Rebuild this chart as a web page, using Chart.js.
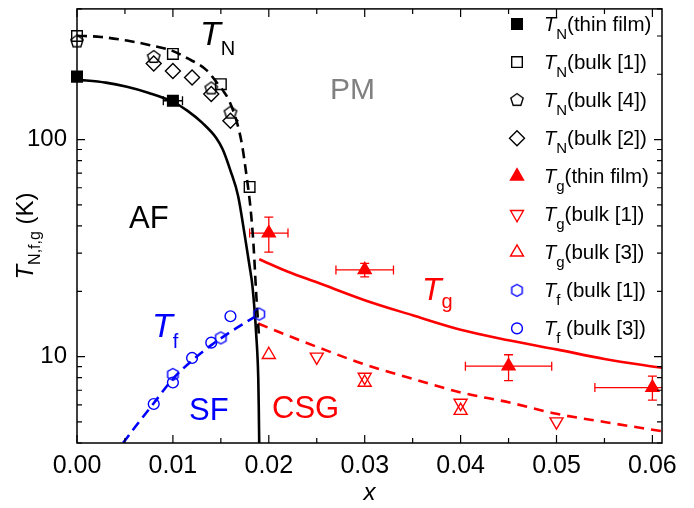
<!DOCTYPE html>
<html>
<head>
<meta charset="utf-8">
<script src="https://cdn.jsdelivr.net/npm/chart.js@4.4.0/dist/chart.umd.min.js"></script>
<style>
    html, body { margin: 0; padding: 0; background: #fff; }
</style>
</head>
<body>
<canvas id="phaseChart" width="694" height="508"></canvas>
<script>
const FONT = "'Liberation Sans', Arial, sans-serif";
const RED = '#ff0000';
const BLUE = '#0000ff';

// --- measured points ---
const tnFilmX = [0, 0.01];
const tnFilmY = [195, 151];
const tnFilmXErr = [0, 0.001];

const tnBulk1X = [0, 0.01, 0.015, 0.018];
const tnBulk1Y = [300, 248, 180, 60.5];

const tnBulk4X = [0, 0.008, 0.014, 0.016];
const tnBulk4Y = [283, 240, 172, 133];

const tnBulk2X = [0.008, 0.01, 0.012, 0.014, 0.016];
const tnBulk2Y = [224, 207, 193, 162, 122];

const tgFilmX = [0.02, 0.03, 0.045, 0.06];
const tgFilmY = [37.1, 25.1, 9.04, 7.2];
const tgFilmXErr = [0.002, 0.003, 0.0045, 0.006];
const tgFilmYLo = [30.3, 23.3, 7.75, 6.3];
const tgFilmYHi = [43.9, 26.9, 10.2, 8.14];

const tgBulk1X = [0.025, 0.03, 0.04, 0.05];
const tgBulk1Y = [9.97, 8.05, 6.11, 5.02];

const tgBulk3X = [0.02, 0.03, 0.04];
const tgBulk3Y = [10.2, 7.6, 5.64];

const tfBulk1X = [0.01, 0.015, 0.019];
const tfBulk1Y = [8.28, 12.2, 15.7];

const tfBulk3X = [0.008, 0.01, 0.012, 0.014, 0.016];
const tfBulk3Y = [6.05, 7.6, 9.86, 11.6, 15.35];

// --- guide curves ---
const tnFilmFitX = [0, 0.003, 0.0052, 0.0075, 0.0099, 0.0115, 0.0131, 0.0145, 0.0152, 0.016, 0.0168, 0.0175, 0.018, 0.0183, 0.0187, 0.0189, 0.01895, 0.019];
const tnFilmFitY = [189, 183, 175, 164, 150, 136, 119, 102, 90, 72, 55, 36, 26, 21, 12.4, 8, 6, 4];

const tnBulkFitX = [0, 0.0025, 0.0052, 0.0075, 0.0099, 0.0115, 0.0135, 0.0145, 0.0152, 0.0159, 0.0167, 0.0172, 0.0177, 0.0181, 0.0184, 0.0187, 0.019];
const tnBulkFitY = [301, 297, 286, 273, 257, 237, 209, 185, 169, 150, 119, 95, 67, 48, 33, 19, 12];

const tfFitX = [0.0048, 0.006, 0.008, 0.01, 0.012, 0.014, 0.016, 0.0175, 0.019];
const tfFitY = [4, 4.7, 6.1, 7.9, 9.6, 11.3, 13.0, 14.3, 15.7];

const tgFitX = [0.019, 0.022, 0.025, 0.03, 0.035, 0.04, 0.045, 0.05, 0.055, 0.061];
const tgFitY = [28.1, 24.6, 22.0, 18.2, 15.5, 13.3, 11.9, 10.8, 9.76, 8.88];

const tgBulkFitX = [0.0189, 0.022, 0.025, 0.03, 0.035, 0.04, 0.045, 0.05, 0.055, 0.061];
const tgBulkFitY = [14.2, 12.5, 11.1, 9.2, 7.9, 6.84, 6.16, 5.45, 5.0, 4.53];

// --- axes ---
const xMajorTicks = [0, 0.01, 0.02, 0.03, 0.04, 0.05, 0.06];
const xMinorTicks = [0.005, 0.015, 0.025, 0.035, 0.045, 0.055];
const yTicks = [4, 5, 6, 7, 8, 9, 10, 20, 30, 40, 50, 60, 70, 80, 90, 100, 200, 300, 400];
const yLabelled = [10, 100];

// legend text: subscript + rest
const legendSubs = ['N', 'N', 'N', 'N', 'g', 'g', 'g', 'f', 'f'];
const legendTails = ['(thin film)', '(bulk [1])', '(bulk [4])', '(bulk [2])', '(thin film)', '(bulk [1])', '(bulk [3])', ' (bulk [1])', ' (bulk [3])'];

function pts(xs, ys) {
    return xs.map((x, i) => ({x: x, y: ys[i]}));
}

function polyCanvas(sides, r, color, lw) {
    const size = Math.ceil(2 * r + 2 * lw + 2);
    const c = document.createElement('canvas');
    c.width = size; c.height = size;
    const g = c.getContext('2d');
    g.beginPath();
    for (let i = 0; i < sides; i++) {
        const a = -Math.PI / 2 + i * 2 * Math.PI / sides;
        const px = size / 2 + r * Math.cos(a), py = size / 2 + r * Math.sin(a);
        if (i) g.lineTo(px, py); else g.moveTo(px, py);
    }
    g.closePath();
    g.lineWidth = lw;
    g.strokeStyle = color;
    g.stroke();
    return c;
}

const pentagon = polyCanvas(5, 6.5, '#000', 1.4);
const hexagon = polyCanvas(6, 6, BLUE, 1.4);

function markers(xs, ys, style, color, filled, radius, rotation) {
    return {
        data: pts(xs, ys),
        showLine: false,
        pointStyle: style,
        pointRadius: radius,
        pointRotation: rotation || 0,
        pointBorderColor: color,
        pointBackgroundColor: filled ? color : 'rgba(0,0,0,0)',
        pointBorderWidth: 1.4,
        clip: false
    };
}

function curve(xs, ys, color, dash) {
    return {
        data: pts(xs, ys),
        showLine: true,
        borderColor: color,
        borderWidth: 2.6,
        borderDash: dash,
        pointRadius: 0,
        cubicInterpolationMode: 'monotone'
    };
}

const markerSets = [
    markers(tnFilmX, tnFilmY, 'rect', '#000', true, 7.5),
    markers(tnBulk1X, tnBulk1Y, 'rect', '#000', false, 7.5),
    markers(tnBulk4X, tnBulk4Y, pentagon, '#000', false, 7),
    markers(tnBulk2X, tnBulk2Y, 'rectRot', '#000', false, 7.5),
    markers(tgFilmX, tgFilmY, 'triangle', RED, true, 7.5),
    markers(tgBulk1X, tgBulk1Y, 'triangle', RED, false, 7.5, 180),
    markers(tgBulk3X, tgBulk3Y, 'triangle', RED, false, 7.5),
    markers(tfBulk1X, tfBulk1Y, hexagon, BLUE, false, 6),
    markers(tfBulk3X, tfBulk3Y, 'circle', BLUE, false, 5.4)
];

const curveSets = [
    curve(tnFilmFitX, tnFilmFitY, '#000', []),
    curve(tnBulkFitX, tnBulkFitY, '#000', [10, 6]),
    curve(tfFitX, tfFitY, BLUE, [10, 6]),
    curve(tgFitX, tgFitY, RED, []),
    curve(tgBulkFitX, tgBulkFitY, RED, [10, 7])
];

// draws a run of text pieces: [text, size, italic, dy, color]
function drawRich(ctx, x, y, parts) {
    let cx = x;
    parts.forEach(p => {
        ctx.font = (p[2] ? 'italic ' : '') + p[1] + 'px ' + FONT;
        if (p[4]) ctx.fillStyle = p[4];
        ctx.fillText(p[0], cx, y + (p[3] || 0));
        cx += ctx.measureText(p[0]).width;
    });
    return cx - x;
}

function richWidth(ctx, parts) {
    let w = 0;
    parts.forEach(p => {
        ctx.font = (p[2] ? 'italic ' : '') + p[1] + 'px ' + FONT;
        w += ctx.measureText(p[0]).width;
    });
    return w;
}

function drawMarker(ctx, ds, x, y) {
    const r = ds.pointRadius;
    const style = ds.pointStyle;
    ctx.save();
    ctx.translate(x, y);
    ctx.fillStyle = ds.pointBackgroundColor;
    ctx.strokeStyle = ds.pointBorderColor;
    ctx.lineWidth = ds.pointBorderWidth;
    if (style instanceof HTMLCanvasElement) {
        ctx.drawImage(style, -style.width / 2, -style.height / 2);
        ctx.restore();
        return;
    }
    ctx.rotate((ds.pointRotation || 0) * Math.PI / 180);
    ctx.beginPath();
    if (style === 'rect') {
        const s = r * Math.SQRT1_2;
        ctx.rect(-s, -s, 2 * s, 2 * s);
    } else if (style === 'rectRot') {
        ctx.moveTo(0, -r); ctx.lineTo(r, 0); ctx.lineTo(0, r); ctx.lineTo(-r, 0); ctx.closePath();
    } else if (style === 'triangle') {
        for (let i = 0; i < 3; i++) {
            const a = i * 2 * Math.PI / 3;
            const px = Math.sin(a) * r, py = -Math.cos(a) * r;
            if (i) ctx.lineTo(px, py); else ctx.moveTo(px, py);
        }
        ctx.closePath();
    } else {
        ctx.arc(0, 0, r, 0, 2 * Math.PI);
    }
    ctx.fill();
    ctx.stroke();
    ctx.restore();
}

const errorBars = {
    id: 'errorBars',
    beforeDatasetsDraw(chart) {
        const {ctx, chartArea: a, scales: {x, y}} = chart;
        ctx.save();
        ctx.beginPath();
        ctx.rect(a.left, a.top, a.right - a.left, a.bottom - a.top);
        ctx.clip();
        ctx.lineWidth = 1.3;
        const cap = 4.5;
        function bars(xs, ys, xe, ylo, yhi, color) {
            ctx.strokeStyle = color;
            ctx.beginPath();
            xs.forEach((v, i) => {
                const px = x.getPixelForValue(v), py = y.getPixelForValue(ys[i]);
                if (xe && xe[i]) {
                    const l = x.getPixelForValue(v - xe[i]), r = x.getPixelForValue(v + xe[i]);
                    ctx.moveTo(l, py); ctx.lineTo(r, py);
                    ctx.moveTo(l, py - cap); ctx.lineTo(l, py + cap);
                    ctx.moveTo(r, py - cap); ctx.lineTo(r, py + cap);
                }
                if (ylo && yhi) {
                    const t = y.getPixelForValue(yhi[i]), b = y.getPixelForValue(ylo[i]);
                    ctx.moveTo(px, t); ctx.lineTo(px, b);
                    ctx.moveTo(px - cap, t); ctx.lineTo(px + cap, t);
                    ctx.moveTo(px - cap, b); ctx.lineTo(px + cap, b);
                }
            });
            ctx.stroke();
        }
        bars(tnFilmX, tnFilmY, tnFilmXErr, null, null, '#000');
        bars(tgFilmX, tgFilmY, tgFilmXErr, tgFilmYLo, tgFilmYHi, RED);
        ctx.restore();
    }
};

const decorations = {
    id: 'decorations',
    afterDraw(chart) {
        const {ctx, chartArea: a, scales: {x, y}} = chart;
        ctx.save();

        // frame and inward ticks on all four sides
        ctx.strokeStyle = '#000';
        ctx.lineWidth = 1.5;
        ctx.strokeRect(a.left, a.top, a.right - a.left, a.bottom - a.top);
        ctx.lineWidth = 1.2;
        ctx.beginPath();
        function xt(v, len) {
            const px = x.getPixelForValue(v);
            ctx.moveTo(px, a.bottom); ctx.lineTo(px, a.bottom - len);
            ctx.moveTo(px, a.top); ctx.lineTo(px, a.top + len);
        }
        function yt(v, len) {
            const py = y.getPixelForValue(v);
            ctx.moveTo(a.left, py); ctx.lineTo(a.left + len, py);
            ctx.moveTo(a.right, py); ctx.lineTo(a.right - len, py);
        }
        xMajorTicks.forEach(v => xt(v, 8));
        xMinorTicks.forEach(v => xt(v, 5));
        yTicks.forEach(v => yt(v, yLabelled.includes(v) ? 8 : 5));
        ctx.stroke();

        ctx.textBaseline = 'alphabetic';
        ctx.textAlign = 'left';

        // axis titles
        ctx.fillStyle = '#000';
        ctx.font = 'italic 24px ' + FONT;
        ctx.textAlign = 'center';
        ctx.fillText('x', (a.left + a.right) / 2, 500);
        ctx.textAlign = 'left';

        const yTitle = [['T', 24, true, 0], ['N,f,g', 16, false, 7], [' (K)', 24, false, 0]];
        ctx.save();
        ctx.translate(33, 236);
        ctx.rotate(-Math.PI / 2);
        drawRich(ctx, -richWidth(ctx, yTitle) / 2, 0, yTitle);
        ctx.restore();

        // region labels
        drawRich(ctx, 200, 45, [['T', 34, true, 0, '#000'], ['N', 20, false, 10]]);
        drawRich(ctx, 330, 99, [['PM', 30, false, 0, '#808080']]);
        drawRich(ctx, 129, 228, [['AF', 31, false, 0, '#000']]);
        drawRich(ctx, 152, 337, [['T', 34, true, 0, BLUE], ['f', 20, false, 11]]);
        drawRich(ctx, 189, 420, [['SF', 31, false, 0, BLUE]]);
        drawRich(ctx, 272, 418, [['CSG', 31, false, 0, RED]]);
        drawRich(ctx, 422, 300, [['T', 32, true, 0, RED], ['g', 20, false, 8]]);

        // legend
        chart.data.datasets.slice(0, markerSets.length).forEach((ds, i) => {
            const rowY = 24 + i * 38.05;
            drawMarker(ctx, ds, 517, rowY);
            ctx.fillStyle = '#000';
            drawRich(ctx, 544, rowY + 7, [['T', 20, true, 0], [legendSubs[i], 15, false, 8], [legendTails[i], 20.5, false, 0]]);
        });

        ctx.restore();
    }
};

Chart.defaults.font.family = FONT;
Chart.defaults.color = '#000';

const ctx = document.getElementById('phaseChart').getContext('2d');
const phaseChart = new Chart(ctx, {
    type: 'scatter',
    data: { datasets: markerSets.concat(curveSets) },
    options: {
        responsive: false,
        animation: false,
        events: [],
        layout: { padding: { left: 0, top: 5, right: 32, bottom: 0 } },
        plugins: { legend: { display: false }, tooltip: { enabled: false } },
        scales: {
            x: {
                type: 'linear',
                min: 0,
                max: 0.061,
                afterFit: s => { s.height = 65; s.paddingLeft = 0; s.paddingRight = 0; },
                afterBuildTicks: s => { s.ticks = xMajorTicks.map(v => ({value: v})); },
                grid: { display: false, drawTicks: false },
                border: { display: false },
                ticks: {
                    autoSkip: false,
                    maxRotation: 0,
                    padding: 8,
                    font: { size: 25 },
                    callback: v => v.toFixed(2)
                }
            },
            y: {
                type: 'logarithmic',
                min: 4,
                max: 400,
                afterFit: s => { s.width = 77; s.paddingTop = 0; s.paddingBottom = 0; },
                afterBuildTicks: s => { s.ticks = yTicks.map(v => ({value: v})); },
                grid: { display: false, drawTicks: false },
                border: { display: false },
                ticks: {
                    autoSkip: false,
                    padding: 10,
                    font: { size: 24 },
                    callback: v => yLabelled.includes(v) ? String(v) : ''
                }
            }
        }
    },
    plugins: [errorBars, decorations]
});
</script>
</body>
</html>
